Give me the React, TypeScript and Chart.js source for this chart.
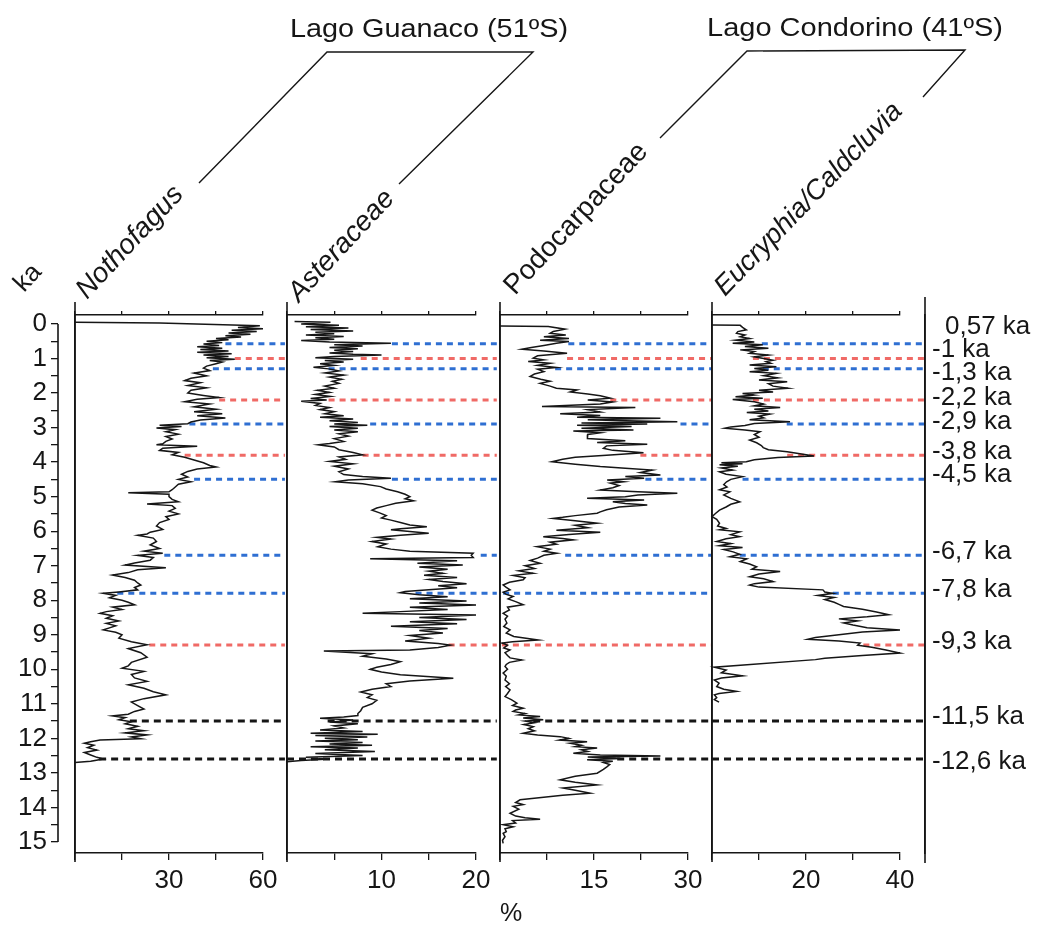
import React, { useEffect, useRef } from 'react';
import { Chart, registerables } from 'chart.js';

Chart.register(...registerables);

const FONT = '"Liberation Sans", Arial, Helvetica, sans-serif';
const INK = '#161616';
const BLUE = '#2f6fd2';
const RED = '#f06a66';

// ---------------- age axis (ka) ----------------
const ageMin = -0.26;
const ageMax = 15.32;
const kaTicks = [0, 0.5, 1, 1.5, 2, 2.5, 3, 3.5, 4, 4.5, 5, 5.5, 6, 6.5, 7, 7.5, 8, 8.5, 9, 9.5, 10, 10.5, 11, 11.5, 12, 12.5, 13, 13.5, 14, 14.5, 15];
const kaLabels = ['0', '', '1', '', '2', '', '3', '', '4', '', '5', '', '6', '', '7', '', '8', '', '9', '', '10', '', '11', '', '12', '', '13', '', '14', '', '15'];

// ---------------- events ----------------
const eventAges = [0.57, 1.0, 1.3, 2.2, 2.9, 3.8, 4.5, 6.7, 7.8, 9.3, 11.5, 12.6];
const eventColors = [BLUE, RED, BLUE, RED, BLUE, RED, BLUE, BLUE, BLUE, RED, INK, INK];
const eventLabels = ['\u20020,57 ka', '-1 ka', '-1,3 ka', '-2,2 ka', '-2,9 ka', '-3,8 ka', '-4,5 ka', '-6,7 ka', '-7,8 ka', '-9,3 ka', '-11,5 ka', '-12,6 ka'];
const eventLabelAges = [0.09, 0.75, 1.42, 2.14, 2.84, 3.71, 4.37, 6.6, 7.7, 9.21, 11.38, 12.68];

// where each event line leaves the curve, per panel (%)
const nothofagusEventStart = [48, 51, 44, 46, 36.5, 35, 38, 28.5, 13.5, 23.7, 17.5, 7.7];
const asteraceaeEventStart = [11.1, 7.8, 4.4, 4.4, 8.8, 8, 11.1, 20.5, 13.6, 17.1, 4.3, 0];
const podocarpaceaeEventStart = [10.9, 10.7, 8.8, 17.6, 28.8, 22.4, 23.2, 10.4, 0.5, 0.3, 5.3, 18.7];
const eucryphiaEventStart = [10.6, 8.7, 10.8, 8.7, 15.9, 16, 6.5, 5.9, 25.7, 32.2, 0, 0];

// ---------------- pollen series: [age ka, %] ----------------
const nothofagus: [number, number][] = [
  [-0.05, 0], [-0.03, 27], [0.05, 59], [0.1, 52], [0.14, 60], [0.18, 50], [0.22, 58], [0.26, 49], [0.3, 56], [0.34, 48],
  [0.38, 53], [0.42, 45], [0.46, 49], [0.5, 42], [0.54, 47], [0.58, 41], [0.62, 46], [0.66, 39], [0.7, 47], [0.74, 40],
  [0.78, 49], [0.82, 39], [0.86, 50], [0.9, 41], [0.94, 49], [0.98, 42], [1.02, 51], [1.06, 43], [1.1, 47], [1.15, 45],
  [1.22, 42], [1.28, 41], [1.35, 43], [1.42, 38], [1.5, 42], [1.57, 37], [1.64, 35], [1.7, 40], [1.78, 36], [1.85, 42],
  [1.92, 37], [2.0, 36], [2.07, 41], [2.13, 46], [2.18, 39], [2.25, 35], [2.32, 43], [2.4, 38], [2.47, 45], [2.54, 38],
  [2.6, 47], [2.66, 39], [2.72, 48], [2.78, 40], [2.84, 37], [2.89, 36], [2.93, 27], [2.97, 34], [3.01, 26], [3.06, 32],
  [3.12, 29], [3.19, 33], [3.26, 29], [3.33, 31], [3.4, 29], [3.47, 28], [3.5, 26], [3.54, 39], [3.6, 28], [3.66, 27],
  [3.72, 33], [3.79, 31], [3.86, 35], [3.94, 38], [4.02, 41], [4.1, 43], [4.14, 45], [4.2, 39], [4.27, 36], [4.35, 34],
  [4.43, 36], [4.5, 33], [4.57, 37], [4.64, 33], [4.72, 32], [4.8, 31], [4.86, 30], [4.89, 17], [4.93, 30], [5.0, 30],
  [5.08, 31], [5.15, 33], [5.21, 23], [5.26, 31], [5.34, 32], [5.42, 30], [5.5, 33], [5.58, 29], [5.66, 30], [5.75, 27],
  [5.85, 26], [5.95, 28], [6.03, 24], [6.08, 23], [6.12, 20], [6.2, 25], [6.3, 26], [6.4, 24], [6.5, 27], [6.58, 22],
  [6.64, 28], [6.7, 20], [6.76, 25], [6.84, 24], [6.92, 19], [6.98, 16], [7.06, 29], [7.12, 20], [7.2, 17], [7.27, 12],
  [7.34, 16], [7.42, 19], [7.5, 20], [7.56, 21], [7.63, 19], [7.7, 20], [7.76, 14], [7.8, 9], [7.86, 13], [7.93, 11],
  [8.0, 15], [8.06, 17], [8.13, 19], [8.2, 12], [8.27, 15], [8.33, 10], [8.38, 8], [8.45, 12], [8.52, 10], [8.6, 14],
  [8.67, 10], [8.74, 13], [8.8, 11], [8.86, 9], [8.93, 13], [9.0, 15], [9.1, 14], [9.2, 18], [9.29, 23], [9.4, 17],
  [9.52, 21], [9.65, 23], [9.8, 18], [9.9, 17], [9.97, 15], [10.06, 22], [10.15, 18], [10.25, 19], [10.35, 23], [10.45, 17],
  [10.55, 22], [10.65, 25], [10.74, 29], [10.85, 22], [10.95, 18], [11.05, 20], [11.15, 22], [11.22, 19], [11.3, 17], [11.35, 12],
  [11.4, 16], [11.46, 14], [11.52, 18], [11.58, 16], [11.65, 20], [11.72, 17], [11.78, 22], [11.84, 16], [11.9, 23], [11.96, 18],
  [12.01, 21], [12.05, 8], [12.1, 5], [12.14, 3], [12.2, 6], [12.27, 4], [12.34, 7], [12.41, 3], [12.48, 5], [12.55, 7],
  [12.6, 9], [12.66, 5], [12.7, 0],
];

const asteraceae: [number, number][] = [
  [-0.07, 0.8], [-0.05, 4.6], [0.0, 1.5], [0.04, 5.5], [0.08, 2], [0.12, 6.5], [0.16, 2.5], [0.2, 7], [0.24, 3], [0.28, 5],
  [0.32, 2], [0.36, 6], [0.4, 3], [0.44, 5], [0.48, 1.5], [0.52, 4.5], [0.56, 11], [0.6, 5], [0.64, 8], [0.68, 4.5],
  [0.72, 7.5], [0.76, 5], [0.8, 7], [0.84, 4.5], [0.88, 7], [0.9, 10], [0.94, 5], [0.98, 3], [1.02, 7], [1.06, 4],
  [1.1, 6], [1.15, 3.5], [1.2, 5], [1.25, 2.8], [1.3, 4.4], [1.36, 5.5], [1.42, 4], [1.48, 6], [1.54, 4.5], [1.6, 5.8],
  [1.66, 4.8], [1.72, 5.5], [1.8, 4], [1.86, 5], [1.92, 3.2], [1.98, 4.5], [2.04, 3], [2.1, 4.6], [2.16, 2.5], [2.2, 4.2],
  [2.24, 1.5], [2.3, 3.5], [2.36, 3], [2.42, 4.5], [2.48, 3.5], [2.54, 5], [2.6, 4], [2.66, 6], [2.7, 3.5], [2.75, 7],
  [2.8, 4.5], [2.85, 7.5], [2.9, 5], [2.93, 8.5], [2.97, 4.5], [3.02, 7.5], [3.07, 5], [3.12, 7.5], [3.18, 5.5], [3.25, 6.5],
  [3.32, 5], [3.4, 6], [3.46, 4.5], [3.5, 3.3], [3.56, 5], [3.64, 5.5], [3.72, 7], [3.79, 8], [3.85, 5.5], [3.92, 6.2],
  [3.98, 4.5], [4.05, 7], [4.12, 5], [4.2, 6.5], [4.28, 5.5], [4.36, 6], [4.42, 8], [4.47, 11], [4.52, 6.5], [4.57, 5.1],
  [4.63, 8], [4.71, 9.9], [4.78, 10.5], [4.86, 11.7], [4.93, 12.5], [5.0, 13], [5.06, 12.5], [5.12, 13.4], [5.19, 11.5], [5.26, 10.5],
  [5.33, 9.5], [5.39, 9], [5.47, 9.8], [5.55, 10.5], [5.62, 10], [5.68, 11], [5.75, 12], [5.82, 13], [5.87, 14.8], [5.93, 12],
  [5.96, 11], [6.01, 13], [6.06, 15], [6.12, 12], [6.18, 9.5], [6.23, 11], [6.3, 9], [6.37, 10.5], [6.45, 9.6], [6.52, 11],
  [6.58, 13], [6.64, 19.7], [6.7, 19.5], [6.76, 19.7], [6.8, 8.8], [6.86, 18], [6.93, 13.8], [6.98, 18.6], [7.04, 14], [7.1, 17],
  [7.16, 15], [7.22, 16.5], [7.28, 14.5], [7.34, 18], [7.4, 15], [7.46, 16.5], [7.52, 19], [7.58, 16], [7.64, 18], [7.7, 15],
  [7.75, 12.5], [7.78, 12], [7.84, 14], [7.9, 17], [7.96, 13], [8.02, 19], [8.08, 14], [8.14, 20], [8.2, 13], [8.27, 17],
  [8.33, 12], [8.38, 8], [8.43, 20], [8.5, 14], [8.56, 19], [8.62, 13], [8.68, 18], [8.75, 11], [8.82, 17], [8.88, 14],
  [8.95, 16.5], [9.02, 13], [9.1, 15], [9.18, 12.5], [9.25, 16], [9.3, 17.3], [9.37, 16], [9.44, 13], [9.47, 3.9], [9.55, 9],
  [9.62, 8], [9.7, 10.5], [9.78, 12], [9.86, 11], [9.94, 9.5], [10.0, 8.8], [10.08, 10], [10.16, 12], [10.26, 17.6], [10.34, 13],
  [10.42, 10.5], [10.5, 11], [10.58, 9], [10.66, 7.8], [10.74, 9], [10.82, 8.5], [10.9, 9.5], [11.0, 9], [11.1, 8], [11.2, 7.8],
  [11.28, 7.5], [11.34, 7.5], [11.38, 6], [11.42, 3.5], [11.47, 7], [11.53, 4.5], [11.58, 7.5], [11.64, 5], [11.7, 6], [11.76, 3.5],
  [11.8, 8], [11.85, 2.5], [11.88, 9.6], [11.92, 3], [11.96, 8.5], [12.0, 4], [12.04, 7.5], [12.08, 3], [12.12, 8], [12.16, 4.5],
  [12.2, 9], [12.24, 2.5], [12.28, 7.5], [12.33, 4], [12.38, 9.3], [12.44, 3], [12.5, 8], [12.55, 2], [12.6, 4.5], [12.64, 1.5],
  [12.68, 0],
];

const podocarpaceae: [number, number][] = [
  [0.06, 0], [0.07, 7.7], [0.15, 10.4], [0.22, 8.5], [0.27, 8], [0.32, 10.5], [0.37, 7], [0.42, 11], [0.47, 6.4], [0.51, 11],
  [0.56, 9], [0.62, 7], [0.68, 5], [0.73, 3.5], [0.78, 7], [0.85, 10.7], [0.92, 6], [0.99, 5.3], [1.04, 7], [1.09, 4.5],
  [1.14, 8], [1.2, 6], [1.26, 9], [1.31, 6], [1.38, 7], [1.45, 5.5], [1.52, 4.8], [1.6, 6.5], [1.66, 8], [1.72, 6.4],
  [1.8, 8], [1.86, 9], [1.91, 12.3], [1.97, 11.2], [2.03, 14], [2.08, 16], [2.15, 17.6], [2.2, 14], [2.26, 18], [2.32, 16],
  [2.39, 6.7], [2.42, 21.6], [2.48, 14], [2.55, 16], [2.6, 9.6], [2.65, 16], [2.7, 12.3], [2.73, 25.6], [2.77, 14], [2.8, 20],
  [2.83, 28.3], [2.87, 13], [2.9, 23.5], [2.93, 12.3], [2.97, 21], [3.02, 13], [3.07, 21.3], [3.1, 11.7], [3.15, 16], [3.2, 14],
  [3.26, 13.9], [3.32, 14], [3.38, 20], [3.43, 15.5], [3.48, 23.5], [3.53, 17], [3.6, 16.5], [3.66, 18], [3.73, 22.9], [3.8, 17],
  [3.86, 12], [3.92, 10], [3.99, 8.3], [4.06, 12], [4.13, 16], [4.18, 20], [4.23, 24.3], [4.3, 22.4], [4.37, 25.6], [4.42, 20],
  [4.47, 23], [4.52, 17.1], [4.57, 19.7], [4.61, 17.6], [4.68, 19], [4.74, 18], [4.81, 16], [4.86, 22], [4.9, 28.3], [4.95, 22],
  [5.0, 20], [5.05, 13.9], [5.1, 23], [5.15, 18], [5.2, 20], [5.24, 23.5], [5.3, 19], [5.38, 17], [5.44, 16], [5.48, 15.5],
  [5.55, 12], [5.6, 10], [5.63, 8.5], [5.7, 12], [5.77, 15.5], [5.83, 12], [5.9, 14], [5.97, 9], [6.03, 16], [6.1, 11],
  [6.16, 6.9], [6.21, 10], [6.25, 11.7], [6.32, 8], [6.38, 9], [6.45, 5.9], [6.52, 8], [6.58, 7], [6.64, 9.1], [6.7, 7],
  [6.78, 6], [6.85, 4.8], [6.93, 6.4], [7.0, 4], [7.08, 5.5], [7.15, 3], [7.22, 5.3], [7.28, 2.1], [7.35, 4], [7.41, 3.7],
  [7.48, 1.5], [7.56, 0.5], [7.63, 1], [7.7, 1.6], [7.77, 0.5], [7.83, 1], [7.89, 2.1], [7.96, 1.3], [8.04, 2.5], [8.13, 3.7],
  [8.2, 1.2], [8.28, 1.5], [8.38, 0.5], [8.46, 1.2], [8.55, 0.8], [8.66, 1.1], [8.76, 0.6], [8.86, 1.6], [8.95, 1], [9.05, 2.2],
  [9.15, 6.1], [9.2, 2], [9.24, 0.3], [9.3, 1.2], [9.38, 0.6], [9.44, 1.6], [9.52, 0.8], [9.6, 1.2], [9.67, 1.6], [9.73, 3.5],
  [9.8, 1.5], [9.86, 1], [9.92, 0.8], [10.0, 1.2], [10.11, 0.5], [10.2, 1], [10.31, 0.8], [10.42, 1.5], [10.5, 0.9], [10.6, 1.6],
  [10.7, 1.2], [10.79, 0.8], [10.88, 1.8], [10.98, 2.7], [11.05, 2], [11.13, 3.7], [11.18, 2.5], [11.22, 2.1], [11.28, 4], [11.32, 3],
  [11.37, 6.4], [11.41, 3.7], [11.46, 6.9], [11.5, 4], [11.55, 5.5], [11.6, 3.8], [11.66, 5.3], [11.72, 4.5], [11.78, 5.5], [11.85, 3.7],
  [11.9, 6], [11.95, 9.6], [12.0, 11], [12.05, 9.5], [12.1, 13.9], [12.14, 11.2], [12.2, 13], [12.24, 12], [12.28, 15.5], [12.33, 13],
  [12.38, 14], [12.43, 11.7], [12.48, 16], [12.51, 25.6], [12.54, 14], [12.58, 19.2], [12.62, 13.9], [12.66, 18], [12.7, 16.5], [12.76, 17.5],
  [12.82, 17.1], [12.9, 16.5], [13.01, 15.5], [13.1, 12], [13.2, 9.6], [13.27, 12], [13.35, 15.5], [13.44, 10.1], [13.5, 12], [13.59, 14.4],
  [13.65, 10], [13.78, 3.2], [13.86, 2.5], [13.92, 3.7], [13.97, 2.1], [14.05, 3], [14.17, 1.6], [14.25, 2.5], [14.3, 4], [14.34, 6.4],
  [14.38, 2], [14.45, 2.5], [14.5, 0.5], [14.56, 2.1], [14.62, 0.8], [14.7, 1], [14.75, 0.5], [14.85, 0.8], [14.95, 0.4], [15.04, 0.5],
];

const eucryphia: [number, number][] = [
  [0.03, 0], [0.04, 6], [0.1, 6.5], [0.17, 7.3], [0.22, 5.5], [0.27, 5.2], [0.32, 7], [0.37, 6], [0.42, 8], [0.47, 5],
  [0.52, 9], [0.56, 4.4], [0.6, 10.8], [0.65, 7], [0.7, 12], [0.75, 6], [0.8, 9], [0.85, 8], [0.9, 12], [0.95, 9],
  [1.0, 11], [1.05, 13], [1.09, 11.5], [1.14, 12.5], [1.19, 8], [1.24, 13.7], [1.29, 9], [1.34, 12], [1.38, 8], [1.43, 13.7],
  [1.5, 11], [1.56, 14], [1.62, 10], [1.67, 16], [1.73, 12], [1.8, 13], [1.86, 16.2], [1.92, 10], [1.97, 13], [2.01, 6.5],
  [2.06, 9], [2.11, 5], [2.15, 10.8], [2.19, 4.4], [2.25, 9], [2.32, 11], [2.37, 9], [2.42, 14.5], [2.47, 9], [2.52, 12],
  [2.56, 7.4], [2.61, 12.3], [2.67, 10], [2.72, 11], [2.77, 8], [2.83, 16.6], [2.88, 9], [2.94, 7], [2.98, 4], [3.02, 2.7],
  [3.07, 7], [3.12, 10.2], [3.2, 9], [3.28, 10], [3.36, 8], [3.44, 9.5], [3.52, 10.5], [3.58, 10.9], [3.64, 12], [3.7, 16],
  [3.76, 18.7], [3.82, 21.7], [3.87, 14], [3.93, 9], [3.99, 7.3], [4.02, 2], [4.05, 6.5], [4.08, 1.6], [4.12, 5.5], [4.17, 2],
  [4.23, 4.4], [4.28, 1.6], [4.35, 3], [4.42, 6.5], [4.5, 4], [4.57, 3.1], [4.65, 2.5], [4.72, 3.2], [4.8, 1.6], [4.86, 3.8],
  [4.95, 2.5], [5.05, 4], [5.15, 5.9], [5.22, 4], [5.3, 3], [5.39, 1.6], [5.48, 0.8], [5.58, 0], [5.66, 1], [5.77, 1.6],
  [5.85, 1.2], [5.92, 3], [5.96, 1.6], [6.02, 5.9], [6.1, 4], [6.16, 5.9], [6.22, 3], [6.3, 1], [6.36, 4], [6.42, 1.6],
  [6.47, 6.5], [6.53, 2.5], [6.6, 4.5], [6.67, 5.9], [6.74, 3.8], [6.8, 7.4], [6.88, 6], [6.95, 8], [7.03, 9.5], [7.1, 8.5],
  [7.17, 14.5], [7.24, 10], [7.32, 8], [7.38, 11], [7.46, 13], [7.52, 9], [7.56, 8], [7.62, 10], [7.7, 23.6], [7.76, 24],
  [7.8, 25.7], [7.86, 22.5], [7.92, 26], [7.98, 24], [8.06, 26], [8.12, 27], [8.18, 28], [8.26, 32], [8.34, 35], [8.42, 37.6],
  [8.48, 33], [8.54, 27], [8.6, 31], [8.66, 28], [8.72, 30], [8.8, 33], [8.86, 40], [8.92, 32], [9.0, 27], [9.08, 22],
  [9.13, 20.4], [9.18, 27], [9.24, 31.5], [9.3, 31], [9.36, 34], [9.44, 37], [9.53, 40], [9.6, 32], [9.68, 24], [9.72, 22],
  [9.94, 0.5], [10.02, 3], [10.1, 2], [10.19, 6.5], [10.25, 2], [10.31, 0.5], [10.4, 1.5], [10.5, 1], [10.58, 2.5], [10.64, 5.2],
  [10.7, 1.5], [10.74, 0.5], [10.82, 1], [10.88, 0.5], [10.95, 1.5],
];

// ---------------- panel layout ----------------
const AREA_TOP = 315;
const AREA_BOTTOM = 853;
const CANVAS_TOP = 280;
const CANVAS_H = 620;
const KA_W = 58;

type PanelDef = {
  series: [number, number][];
  max: number;
  starts: number[];
  reach: number;
  boxLeft: number;
  boxWidth: number;
  areaLeft: number;
  areaRight: number;
  first?: boolean;
  last?: boolean;
};

const panelDefs: PanelDef[] = [
  { series: nothofagus, max: 60, starts: nothofagusEventStart, reach: 67, boxLeft: 0, boxWidth: 300, areaLeft: 75, areaRight: 263, first: true },
  { series: asteraceae, max: 20, starts: asteraceaeEventStart, reach: 22.2, boxLeft: 268, boxWidth: 252, areaLeft: 287, areaRight: 476 },
  { series: podocarpaceae, max: 30, starts: podocarpaceaeEventStart, reach: 33.7, boxLeft: 481, boxWidth: 252, areaLeft: 500, areaRight: 688 },
  { series: eucryphia, max: 40, starts: eucryphiaEventStart, reach: 45.1, boxLeft: 693, boxWidth: 349, areaLeft: 712, areaRight: 900, last: true },
];

const framePlugin = {
  id: 'panelFrame',
  afterDraw(chart: any) {
    const { ctx, chartArea, scales } = chart;
    ctx.save();
    ctx.strokeStyle = INK;
    ctx.lineWidth = 1.6;
    ctx.beginPath();
    ctx.moveTo(chartArea.left, chartArea.top - 13);
    ctx.lineTo(chartArea.left, chartArea.bottom + 9);
    if (scales.yka) {
      const x = scales.yka.right;
      ctx.moveTo(x, scales.yka.getPixelForValue(0));
      ctx.lineTo(x, scales.yka.getPixelForValue(15));
    }
    if (scales.yr) {
      const x = scales.yr.left;
      ctx.moveTo(x, chartArea.top - 18);
      ctx.lineTo(x, chartArea.bottom + 10);
    }
    ctx.stroke();
    ctx.restore();
  },
};

function Panel({ def }: { def: PanelDef }) {
  const ref = useRef<HTMLCanvasElement>(null);
  useEffect(() => {
    const canvas = ref.current;
    if (!canvas) return;
    const topH = AREA_TOP - CANVAS_TOP;
    const bottomH = CANVAS_TOP + CANVAS_H - AREA_BOTTOM;
    const innerW = def.areaLeft - def.boxLeft - (def.first ? KA_W : 0);
    const rightPad = def.last ? 0 : def.boxLeft + def.boxWidth - def.areaRight;
    const tickFont = { family: FONT, size: 26 };

    const datasets: any[] = [
      {
        data: def.series.map(([age, pct]) => ({ x: pct, y: age })),
        borderColor: INK,
        borderWidth: 1.5,
        pointRadius: 0,
        showLine: true,
        tension: 0,
        clip: false,
      },
      ...eventAges.map((age, i) => ({
        data: [
          { x: def.starts[i], y: age },
          { x: def.reach, y: age },
        ],
        borderColor: eventColors[i],
        borderWidth: 3,
        borderDash: eventColors[i] === INK ? [7, 5] : [6, 5],
        pointRadius: 0,
        showLine: true,
        clip: false,
      })),
    ];

    const scales: any = {
      x: {
        type: 'linear',
        position: 'bottom',
        min: 0,
        max: def.max,
        ticks: {
          stepSize: def.max / 4,
          autoSkip: false,
          maxRotation: 0,
          minRotation: 0,
          padding: 5,
          color: INK,
          font: tickFont,
          callback: (v: number) => (v === def.max / 2 || v === def.max ? String(v) : ''),
        },
        grid: { display: true, drawOnChartArea: false, drawTicks: true, tickLength: 7, color: INK, lineWidth: 1.3 },
        border: { display: true, color: INK, width: 1.6 },
        afterFit: (s: any) => { s.height = bottomH; },
      },
      xTop: {
        type: 'linear',
        axis: 'x',
        position: 'top',
        min: 0,
        max: def.max,
        ticks: { display: false, stepSize: def.max / 4 },
        grid: { display: true, drawOnChartArea: false, drawTicks: true, tickLength: 4, color: INK, lineWidth: 1.3 },
        border: { display: true, color: INK, width: 1.6 },
        afterFit: (s: any) => { s.height = topH; },
      },
      y: {
        type: 'linear',
        position: 'left',
        weight: 0,
        min: ageMin,
        max: ageMax,
        reverse: true,
        ticks: { display: false },
        grid: { display: false },
        border: { display: true, color: INK, width: 1.6 },
        afterFit: (s: any) => { s.width = innerW; },
      },
    };

    if (def.first) {
      scales.yka = {
        type: 'linear',
        axis: 'y',
        position: 'left',
        weight: 1,
        min: ageMin,
        max: ageMax,
        reverse: true,
        afterBuildTicks: (s: any) => { s.ticks = kaTicks.map((v) => ({ value: v })); },
        ticks: {
          autoSkip: false,
          padding: 4,
          color: INK,
          font: tickFont,
          callback: (_v: number, i: number) => kaLabels[i],
        },
        grid: { display: true, drawOnChartArea: false, drawTicks: true, tickLength: 7, color: INK, lineWidth: 1.3 },
        border: { display: false },
        afterFit: (s: any) => { s.width = KA_W; },
      };
    }

    if (def.last) {
      scales.ySpacer = {
        type: 'linear',
        axis: 'y',
        position: 'right',
        weight: 0,
        min: ageMin,
        max: ageMax,
        reverse: true,
        ticks: { display: false },
        grid: { display: false },
        border: { display: false },
        afterFit: (s: any) => { s.width = 25; },
      };
      scales.yr = {
        type: 'linear',
        axis: 'y',
        position: 'right',
        weight: 1,
        min: ageMin,
        max: ageMax,
        reverse: true,
        afterBuildTicks: (s: any) => { s.ticks = eventLabelAges.map((v) => ({ value: v })); },
        ticks: {
          autoSkip: false,
          padding: 7,
          color: INK,
          font: tickFont,
          callback: (_v: number, i: number) => eventLabels[i],
        },
        grid: { display: false, drawTicks: false },
        border: { display: true, color: INK, width: 1.6 },
        afterFit: (s: any) => { s.width = def.boxWidth - (def.areaRight - def.boxLeft) - 25; },
      };
    }

    const chart = new Chart(canvas, {
      type: 'scatter',
      data: { datasets },
      options: {
        animation: false,
        responsive: false,
        maintainAspectRatio: false,
        devicePixelRatio: 1,
        events: [],
        layout: { padding: { left: 0, right: rightPad, top: 0, bottom: 0 } },
        plugins: { legend: { display: false }, tooltip: { enabled: false }, title: { display: false } },
        scales,
      } as any,
      plugins: [framePlugin],
    });
    return () => chart.destroy();
  }, [def]);

  return (
    <canvas
      ref={ref}
      width={def.boxWidth}
      height={CANVAS_H}
      style={{ position: 'absolute', left: def.boxLeft, top: CANVAS_TOP, width: def.boxWidth, height: CANVAS_H }}
    />
  );
}

export default function App() {
  return (
    <div style={{ position: 'absolute', left: 0, top: 0, width: 1042, height: 928, background: '#ffffff', overflow: 'hidden' }}>
      {panelDefs.map((d, i) => (
        <Panel key={i} def={d} />
      ))}
      <svg width={1042} height={928} style={{ position: 'absolute', left: 0, top: 0, pointerEvents: 'none' }}>
        <g fontFamily={FONT} fill={INK}>
          <text x={290} y={37} fontSize={26} textLength={278} lengthAdjust="spacingAndGlyphs">Lago Guanaco (51ºS)</text>
          <text x={707} y={36} fontSize={26} textLength={296} lengthAdjust="spacingAndGlyphs">Lago Condorino (41ºS)</text>
          <text transform="translate(24,293) rotate(-47)" fontSize={26}>ka</text>
          <text transform="translate(87,300) rotate(-47)" fontSize={28} fontStyle="italic">Nothofagus</text>
          <text transform="translate(299,303) rotate(-47)" fontSize={28} fontStyle="italic">Asteraceae</text>
          <text transform="translate(515,296) rotate(-47)" fontSize={28}>Podocarpaceae</text>
          <text transform="translate(725,297) rotate(-46)" fontSize={27.5} fontStyle="italic">Eucryphia/Caldcluvia</text>
          <text x={500} y={921} fontSize={25}>%</text>
        </g>
        <g fill="none" stroke={INK} strokeWidth={1.4}>
          <polyline points="199,183 327,52 533,52 399,184" />
          <polyline points="660,138 747,51 965,50 923,97" />
        </g>
      </svg>
    </div>
  );
}
